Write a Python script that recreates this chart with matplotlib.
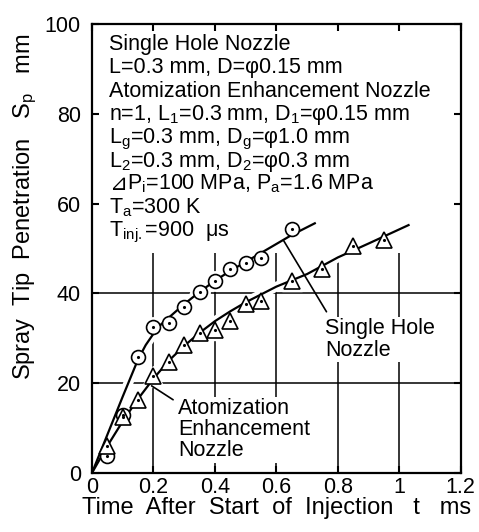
import matplotlib.pyplot as plt
from matplotlib.patches import Rectangle

# fonts
plt.rcParams['font.family'] = ['Liberation Sans', 'DejaVu Sans', 'Noto Sans CJK JP']
plt.rcParams['mathtext.fontset'] = 'custom'
plt.rcParams['mathtext.rm'] = 'Liberation Sans'
plt.rcParams['mathtext.it'] = 'Liberation Sans:italic'

# measured points
t_single = [0.05, 0.10, 0.15, 0.20, 0.25, 0.30, 0.35, 0.40, 0.45, 0.50, 0.55, 0.65]
s_single = [3.8, 12.9, 25.9, 32.4, 33.5, 37.0, 40.2, 42.8, 45.4, 46.7, 47.9, 54.3]
t_atom = [0.05, 0.10, 0.15, 0.20, 0.25, 0.30, 0.35, 0.40, 0.45, 0.50, 0.55, 0.65, 0.75, 0.85, 0.95]
s_atom = [5.9, 12.4, 16.3, 21.5, 24.6, 28.5, 31.1, 31.8, 33.9, 37.6, 38.4, 42.8, 45.4, 50.6, 51.9]

# fitted curves
t_fit_single = [0, 0.05, 0.10, 0.15, 0.175, 0.20, 0.225, 0.25, 0.30, 0.35, 0.40, 0.45, 0.50,
                0.55, 0.60, 0.65, 0.725]
s_fit_single = [0, 8.5, 17.0, 25.3, 28.5, 31.0, 33.1, 34.6, 37.6, 40.3, 42.8, 45.0, 47.0,
                49.0, 51.0, 53.0, 55.6]
t_fit_atom = [0, 0.05, 0.10, 0.15, 0.20, 0.25, 0.30, 0.35, 0.40, 0.45, 0.50, 0.60, 0.70,
              0.80, 0.90, 1.03]
s_fit_atom = [0, 6.0, 11.5, 16.5, 21.0, 25.0, 28.3, 31.2, 33.8, 36.0, 38.0, 41.5, 44.3,
              48.0, 51.1, 55.2]

xticks = [0, 0.2, 0.4, 0.6, 0.8, 1.0, 1.2]
xtick_labels = ['0', '0.2', '0.4', '0.6', '0.8', '1', '1.2']
yticks = [0, 20, 40, 60, 80, 100]
grid_x = [0.2, 0.4, 0.6, 0.8, 1.0]
grid_y = [20, 40]

# (prefix symbol, text) for the conditions block
info_lines = [
    ('', 'Single Hole Nozzle'),
    ('', 'L=0.3 mm, D=φ0.15 mm'),
    ('', 'Atomization Enhancement Nozzle'),
    ('', r'n=1, $\mathrm{L_1}$=0.3 mm, $\mathrm{D_1}$=φ0.15 mm'),
    ('', r'$\mathrm{L_g}$=0.3 mm, $\mathrm{D_g}$=φ1.0 mm'),
    ('', r'$\mathrm{L_2}$=0.3 mm, $\mathrm{D_2}$=φ0.3 mm'),
    ('⊿', r'$\mathrm{P_i}$=100 MPa, $\mathrm{P_a}$=1.6 MPa'),
    ('', r'$\mathrm{T_a}$=300 K'),
    ('', r'$\mathrm{T_{inj.}}$=900  μs'),
]

fig = plt.figure(figsize=(4.79, 5.32), dpi=100)
ax = fig.add_axes([0.192, 0.111, 0.770, 0.844])

# grid lines, partly hidden behind the text block
for x in grid_x:
    ax.axvline(x, color='k', lw=1.1, zorder=1)
for y in grid_y:
    ax.axhline(y, color='k', lw=1.1, zorder=1)
ax.add_patch(Rectangle((0, 0.49), 1, 0.51, transform=ax.transAxes,
                       facecolor='white', edgecolor='none', zorder=1.5))

# white halos, then curves
for tt, ss in [(t_fit_single, s_fit_single), (t_fit_atom, s_fit_atom)]:
    ax.plot(tt, ss, color='white', lw=7, zorder=2, solid_capstyle='butt')
ax.plot(t_single, s_single, 'o', ms=14, color='white', zorder=2)
ax.plot(t_atom, s_atom, '^', ms=15, color='white', zorder=2)
ax.plot(t_fit_single, s_fit_single, color='k', lw=1.6, zorder=3)
ax.plot(t_fit_atom, s_fit_atom, color='k', lw=1.6, zorder=3)

ax.plot(t_single, s_single, 'o', ls='none', ms=10, mfc='white', mec='k', mew=1.2, zorder=4)
ax.plot(t_atom, s_atom, '^', ls='none', ms=11, mfc='white', mec='k', mew=1.2, zorder=4)
ax.plot(t_single, s_single, '.', ls='none', ms=2.5, color='k', zorder=5)
ax.plot(t_atom, s_atom, '.', ls='none', ms=2.5, color='k', zorder=5)

# labels for the curves
box = dict(facecolor='white', edgecolor='none', pad=1)
ax.text(0.758, 29.7, 'Single Hole\nNozzle', fontsize=15.5, ha='left', va='center',
        linespacing=1.05, bbox=box, zorder=6)
ax.annotate('', xy=(0.624, 51.7), xytext=(0.763, 35.9),
            arrowprops=dict(arrowstyle='-', lw=1.2, color='k', shrinkA=0, shrinkB=0), zorder=6)
ax.text(0.280, 9.6, 'Atomization\nEnhancement\nNozzle', fontsize=15.5, ha='left', va='center',
        linespacing=1.0, bbox=box, zorder=6)
ax.annotate('', xy=(0.194, 19.4), xytext=(0.264, 16.3),
            arrowprops=dict(arrowstyle='-', lw=1.2, color='k', shrinkA=0, shrinkB=0), zorder=6)

# conditions block
for i, (sym, line) in enumerate(info_lines):
    pos = (0.046, 0.942 - i * 0.0519)
    shift = 0
    if sym:
        ax.text(*pos, sym, transform=ax.transAxes, fontsize=15.5, ha='left', va='baseline',
                family=['DejaVu Sans', 'Noto Sans CJK JP'], zorder=6)
        shift = 13
    ax.annotate(line, xy=pos, xycoords='axes fraction', xytext=(shift, 0),
                textcoords='offset points', fontsize=15.5, ha='left', va='baseline', zorder=6)

ax.set_xlim(0, 1.2)
ax.set_ylim(0, 100)
ax.set_xticks(xticks, xtick_labels)
ax.set_yticks(yticks)
ax.tick_params(direction='in', length=5, width=1.5, top=True, right=True,
               labelsize=15.5)
ax.tick_params(axis='y', pad=8)
ax.tick_params(axis='x', pad=3)
for sp in ax.spines.values():
    sp.set_linewidth(1.6)

ax.set_xlabel('Time  After  Start  of  Injection   t   ms', fontsize=17)
ax.xaxis.label.set_va('center')
ax.xaxis.set_label_coords(0.5, -0.078)
ax.set_ylabel(r'Spray  Tip  Penetration   $\mathrm{S_p}$   mm', fontsize=17)
ax.yaxis.label.set_va('center')
ax.yaxis.set_label_coords(-0.18, 0.592)

fig.savefig('out.png', dpi=100)
